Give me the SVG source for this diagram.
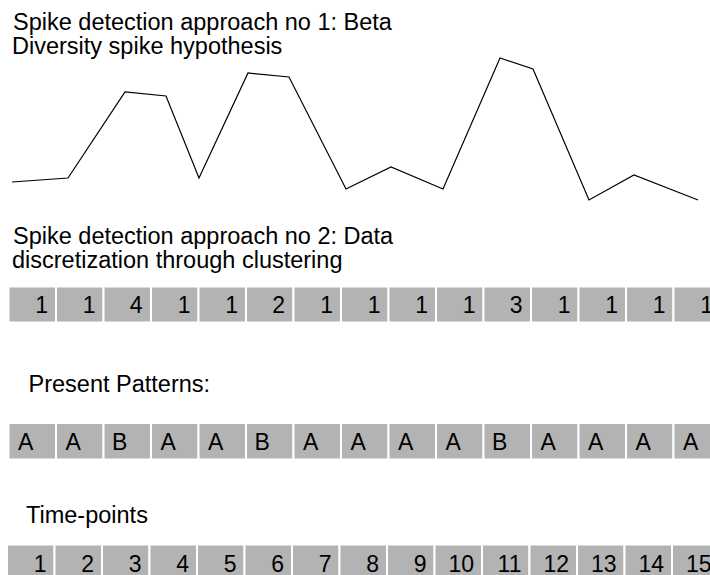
<svg xmlns="http://www.w3.org/2000/svg" width="710" height="575" viewBox="0 0 710 575">
<style>
  .lbl { font-family: "Liberation Sans", Arial, sans-serif; font-size: 23.5px; fill: #000; }
  .cell rect { fill: #b3b3b3; stroke: #ffffff; stroke-width: 2; }
  .cell text { font-family: "Liberation Sans", Arial, sans-serif; font-size: 23px; fill: #000; }
  .num text { text-anchor: end; }
  .spike { fill: none; stroke: #000; stroke-width: 1.2; stroke-linejoin: miter; }
</style>
<rect width="710" height="575" fill="#fff"/>

<g id="title1">
  <text class="lbl" x="13" y="30">Spike detection approach no 1: Beta</text>
  <text class="lbl" x="12" y="53.5">Diversity spike hypothesis</text>
</g>

<g id="connectors">
  <polyline class="spike" points="12,182 68,178 125,92 166,96 199,178 248,73 289,77 346,189 391,167 443,189 500,58 533,69 589,200 634,175 698,200"/>
</g>

<g id="title2">
  <text class="lbl" x="13" y="244">Spike detection approach no 2: Data</text>
  <text class="lbl" x="12" y="268">discretization through clustering</text>
</g>

<g id="clusters" class="num">
  <g id="c1" class="cell"><rect x="8.5" y="286.5" width="47.5" height="36"/><text x="48" y="313">1</text></g>
  <g id="c2" class="cell"><rect x="56" y="286.5" width="47.5" height="36"/><text x="95.5" y="313">1</text></g>
  <g id="c3" class="cell"><rect x="103.5" y="286.5" width="47.5" height="36"/><text x="142.5" y="313">4</text></g>
  <g id="c4" class="cell"><rect x="151" y="286.5" width="47.5" height="36"/><text x="190.5" y="313">1</text></g>
  <g id="c5" class="cell"><rect x="198.5" y="286.5" width="47.5" height="36"/><text x="238" y="313">1</text></g>
  <g id="c6" class="cell"><rect x="246" y="286.5" width="47.5" height="36"/><text x="285" y="313">2</text></g>
  <g id="c7" class="cell"><rect x="293.5" y="286.5" width="47.5" height="36"/><text x="333" y="313">1</text></g>
  <g id="c8" class="cell"><rect x="341" y="286.5" width="47.5" height="36"/><text x="380.5" y="313">1</text></g>
  <g id="c9" class="cell"><rect x="388.5" y="286.5" width="47.5" height="36"/><text x="428" y="313">1</text></g>
  <g id="c10" class="cell"><rect x="436" y="286.5" width="47.5" height="36"/><text x="475.5" y="313">1</text></g>
  <g id="c11" class="cell"><rect x="483.5" y="286.5" width="47.5" height="36"/><text x="522.5" y="313">3</text></g>
  <g id="c12" class="cell"><rect x="531" y="286.5" width="47.5" height="36"/><text x="570.5" y="313">1</text></g>
  <g id="c13" class="cell"><rect x="578.5" y="286.5" width="47.5" height="36"/><text x="618" y="313">1</text></g>
  <g id="c14" class="cell"><rect x="626" y="286.5" width="47.5" height="36"/><text x="665.5" y="313">1</text></g>
  <g id="c15" class="cell"><rect x="673.5" y="286.5" width="47.5" height="36"/><text x="713" y="313">1</text></g>
</g>

<g id="patternsLabel">
  <text class="lbl" x="28.5" y="392">Present Patterns:</text>
</g>

<g id="patterns">
  <g id="p1" class="cell"><rect x="8.5" y="423" width="47.5" height="36.5"/><text x="18" y="450">A</text></g>
  <g id="p2" class="cell"><rect x="56" y="423" width="47.5" height="36.5"/><text x="65.5" y="450">A</text></g>
  <g id="p3" class="cell"><rect x="103.5" y="423" width="47.5" height="36.5"/><text x="112" y="450">B</text></g>
  <g id="p4" class="cell"><rect x="151" y="423" width="47.5" height="36.5"/><text x="160.5" y="450">A</text></g>
  <g id="p5" class="cell"><rect x="198.5" y="423" width="47.5" height="36.5"/><text x="208" y="450">A</text></g>
  <g id="p6" class="cell"><rect x="246" y="423" width="47.5" height="36.5"/><text x="254.5" y="450">B</text></g>
  <g id="p7" class="cell"><rect x="293.5" y="423" width="47.5" height="36.5"/><text x="303" y="450">A</text></g>
  <g id="p8" class="cell"><rect x="341" y="423" width="47.5" height="36.5"/><text x="350.5" y="450">A</text></g>
  <g id="p9" class="cell"><rect x="388.5" y="423" width="47.5" height="36.5"/><text x="398" y="450">A</text></g>
  <g id="p10" class="cell"><rect x="436" y="423" width="47.5" height="36.5"/><text x="445.5" y="450">A</text></g>
  <g id="p11" class="cell"><rect x="483.5" y="423" width="47.5" height="36.5"/><text x="492" y="450">B</text></g>
  <g id="p12" class="cell"><rect x="531" y="423" width="47.5" height="36.5"/><text x="540.5" y="450">A</text></g>
  <g id="p13" class="cell"><rect x="578.5" y="423" width="47.5" height="36.5"/><text x="588" y="450">A</text></g>
  <g id="p14" class="cell"><rect x="626" y="423" width="47.5" height="36.5"/><text x="635.5" y="450">A</text></g>
  <g id="p15" class="cell"><rect x="673.5" y="423" width="47.5" height="36.5"/><text x="683" y="450">A</text></g>
</g>

<g id="timeLabel">
  <text class="lbl" x="26" y="523">Time-points</text>
</g>

<g id="timepoints" class="num">
  <g id="t1" class="cell"><rect x="7" y="544.5" width="47.5" height="40"/><text x="46.5" y="571.5">1</text></g>
  <g id="t2" class="cell"><rect x="54.5" y="544.5" width="47.5" height="40"/><text x="94" y="571.5">2</text></g>
  <g id="t3" class="cell"><rect x="102" y="544.5" width="47.5" height="40"/><text x="141.5" y="571.5">3</text></g>
  <g id="t4" class="cell"><rect x="149.5" y="544.5" width="47.5" height="40"/><text x="189" y="571.5">4</text></g>
  <g id="t5" class="cell"><rect x="197" y="544.5" width="47.5" height="40"/><text x="236.5" y="571.5">5</text></g>
  <g id="t6" class="cell"><rect x="244.5" y="544.5" width="47.5" height="40"/><text x="284" y="571.5">6</text></g>
  <g id="t7" class="cell"><rect x="292" y="544.5" width="47.5" height="40"/><text x="331.5" y="571.5">7</text></g>
  <g id="t8" class="cell"><rect x="339.5" y="544.5" width="47.5" height="40"/><text x="379" y="571.5">8</text></g>
  <g id="t9" class="cell"><rect x="387" y="544.5" width="47.5" height="40"/><text x="426.5" y="571.5">9</text></g>
  <g id="t10" class="cell"><rect x="434.5" y="544.5" width="47.5" height="40"/><text x="474" y="571.5">10</text></g>
  <g id="t11" class="cell"><rect x="482" y="544.5" width="47.5" height="40"/><text x="521.5" y="571.5">11</text></g>
  <g id="t12" class="cell"><rect x="529.5" y="544.5" width="47.5" height="40"/><text x="569" y="571.5">12</text></g>
  <g id="t13" class="cell"><rect x="577" y="544.5" width="47.5" height="40"/><text x="616.5" y="571.5">13</text></g>
  <g id="t14" class="cell"><rect x="624.5" y="544.5" width="47.5" height="40"/><text x="664" y="571.5">14</text></g>
  <g id="t15" class="cell"><rect x="672" y="544.5" width="47.5" height="40"/><text x="711.5" y="571.5">15</text></g>
</g>
</svg>
